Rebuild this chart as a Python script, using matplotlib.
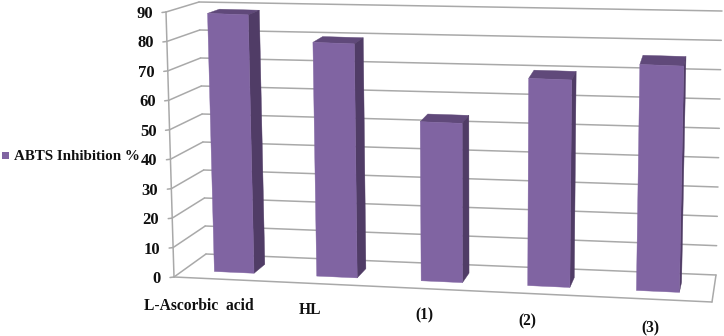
import matplotlib
matplotlib.use("Agg")
import matplotlib.pyplot as plt
from matplotlib.patches import Polygon, Rectangle
import numpy as np

categories = ["L-Ascorbic  acid", "HL", "(1)", "(2)", "(3)"]
values = [88.9, 80.3, 54.5, 70.8, 77.0]
series_name = "ABTS Inhibition %"
yticks = [0, 10, 20, 30, 40, 50, 60, 70, 80, 90]

YMAX = 90.0
NCAT = 5.0
# pixel corners of the 3D box
FBL, FBR = np.array([174., 277.]), np.array([712., 302.])
BBL, BBR = np.array([206., 254.]), np.array([716., 275.])
FTL, FTR = np.array([166., 12.]), np.array([718., 37.])
BTL, BTR = np.array([199., 2.]), np.array([722., 11.])

def proj(u, v, z=0.0):
    a = u / NCAT; b = v / YMAX
    bot = (1-z)*((1-a)*FBL + a*FBR) + z*((1-a)*BBL + a*BBR)
    top = (1-z)*((1-a)*FTL + a*FTR) + z*((1-a)*BTL + a*BTR)
    return (1-b)*bot + b*top

def warp(u):
    a = u / NCAT
    return NCAT * (a - 0.05 * a * (1 - a))

FRONT, SIDE, TOP = "#8064A2", "#503C66", "#60497A"
GRID = "#A9A9A9"
FONT = "Liberation Serif"

fig = plt.figure(figsize=(7.24, 3.36), dpi=100)
ax = fig.add_axes([0, 0, 1, 1])
ax.set_xlim(0, 724); ax.set_ylim(336, 0); ax.axis("off")

def line(p, q, lw=1.1, c=GRID):
    ax.plot([p[0], q[0]], [p[1], q[1]], color=c, lw=lw, solid_capstyle="round", zorder=1)

# walls, floor and gridlines
for t in yticks:
    line(proj(0, t, 0), proj(0, t, 1))
    line(proj(0, t, 1), proj(NCAT, t, 1))
    p = proj(0, t, 0)
    line(p, p + np.array([-4, 0.5]))
    ax.text(p[0] - 13, p[1] + 2, str(t), ha="right", va="center", fontsize=12,
            family=FONT, weight="bold", color="#101010", zorder=5)
line(proj(0, 0, 0), proj(0, YMAX, 0))
line(proj(0, 0, 0), proj(NCAT, 0, 0))
line(proj(NCAT, 0, 0), proj(NCAT, 0, 1))

# bars
W, Z0, Z1 = 0.39, 0.30, 0.68
for i, v in enumerate(values):
    u0, u1 = warp(i + 0.5 - W/2), warp(i + 0.5 + W/2)
    ax.add_patch(Polygon([proj(u0, v, Z0), proj(u1, v, Z0), proj(u1, v, Z1), proj(u0, v, Z1)],
                         fc=TOP, ec=TOP, lw=0.3, zorder=2))
    ax.add_patch(Polygon([proj(u1, 0, Z0), proj(u1, v, Z0), proj(u1, v, Z1), proj(u1, 0, Z1)],
                         fc=SIDE, ec=SIDE, lw=0.3, zorder=2))
    ax.add_patch(Polygon([proj(u0, 0, Z0), proj(u1, 0, Z0), proj(u1, v, Z0), proj(u0, v, Z0)],
                         fc=FRONT, ec=FRONT, lw=0.3, zorder=3))

# category labels
label_dx = [-29, -25, -19, -23, -8]
label_dy = [27, 26, 26, 27, 29]
for i, name in enumerate(categories):
    p = proj(i + 0.5, 0, 0)
    ax.text(p[0] + label_dx[i], p[1] + label_dy[i], name, ha="center", va="center",
            fontsize=11.2, family=FONT, weight="bold", color="#101010", zorder=5)

# legend
ax.add_patch(Rectangle((2, 152), 6.5, 6.5, fc=FRONT, ec="none", zorder=5))
ax.text(14, 156, series_name, ha="left", va="center", fontsize=10.8,
        family=FONT, weight="bold", color="#101010", zorder=5)

fig.savefig("out.png", dpi=100)
